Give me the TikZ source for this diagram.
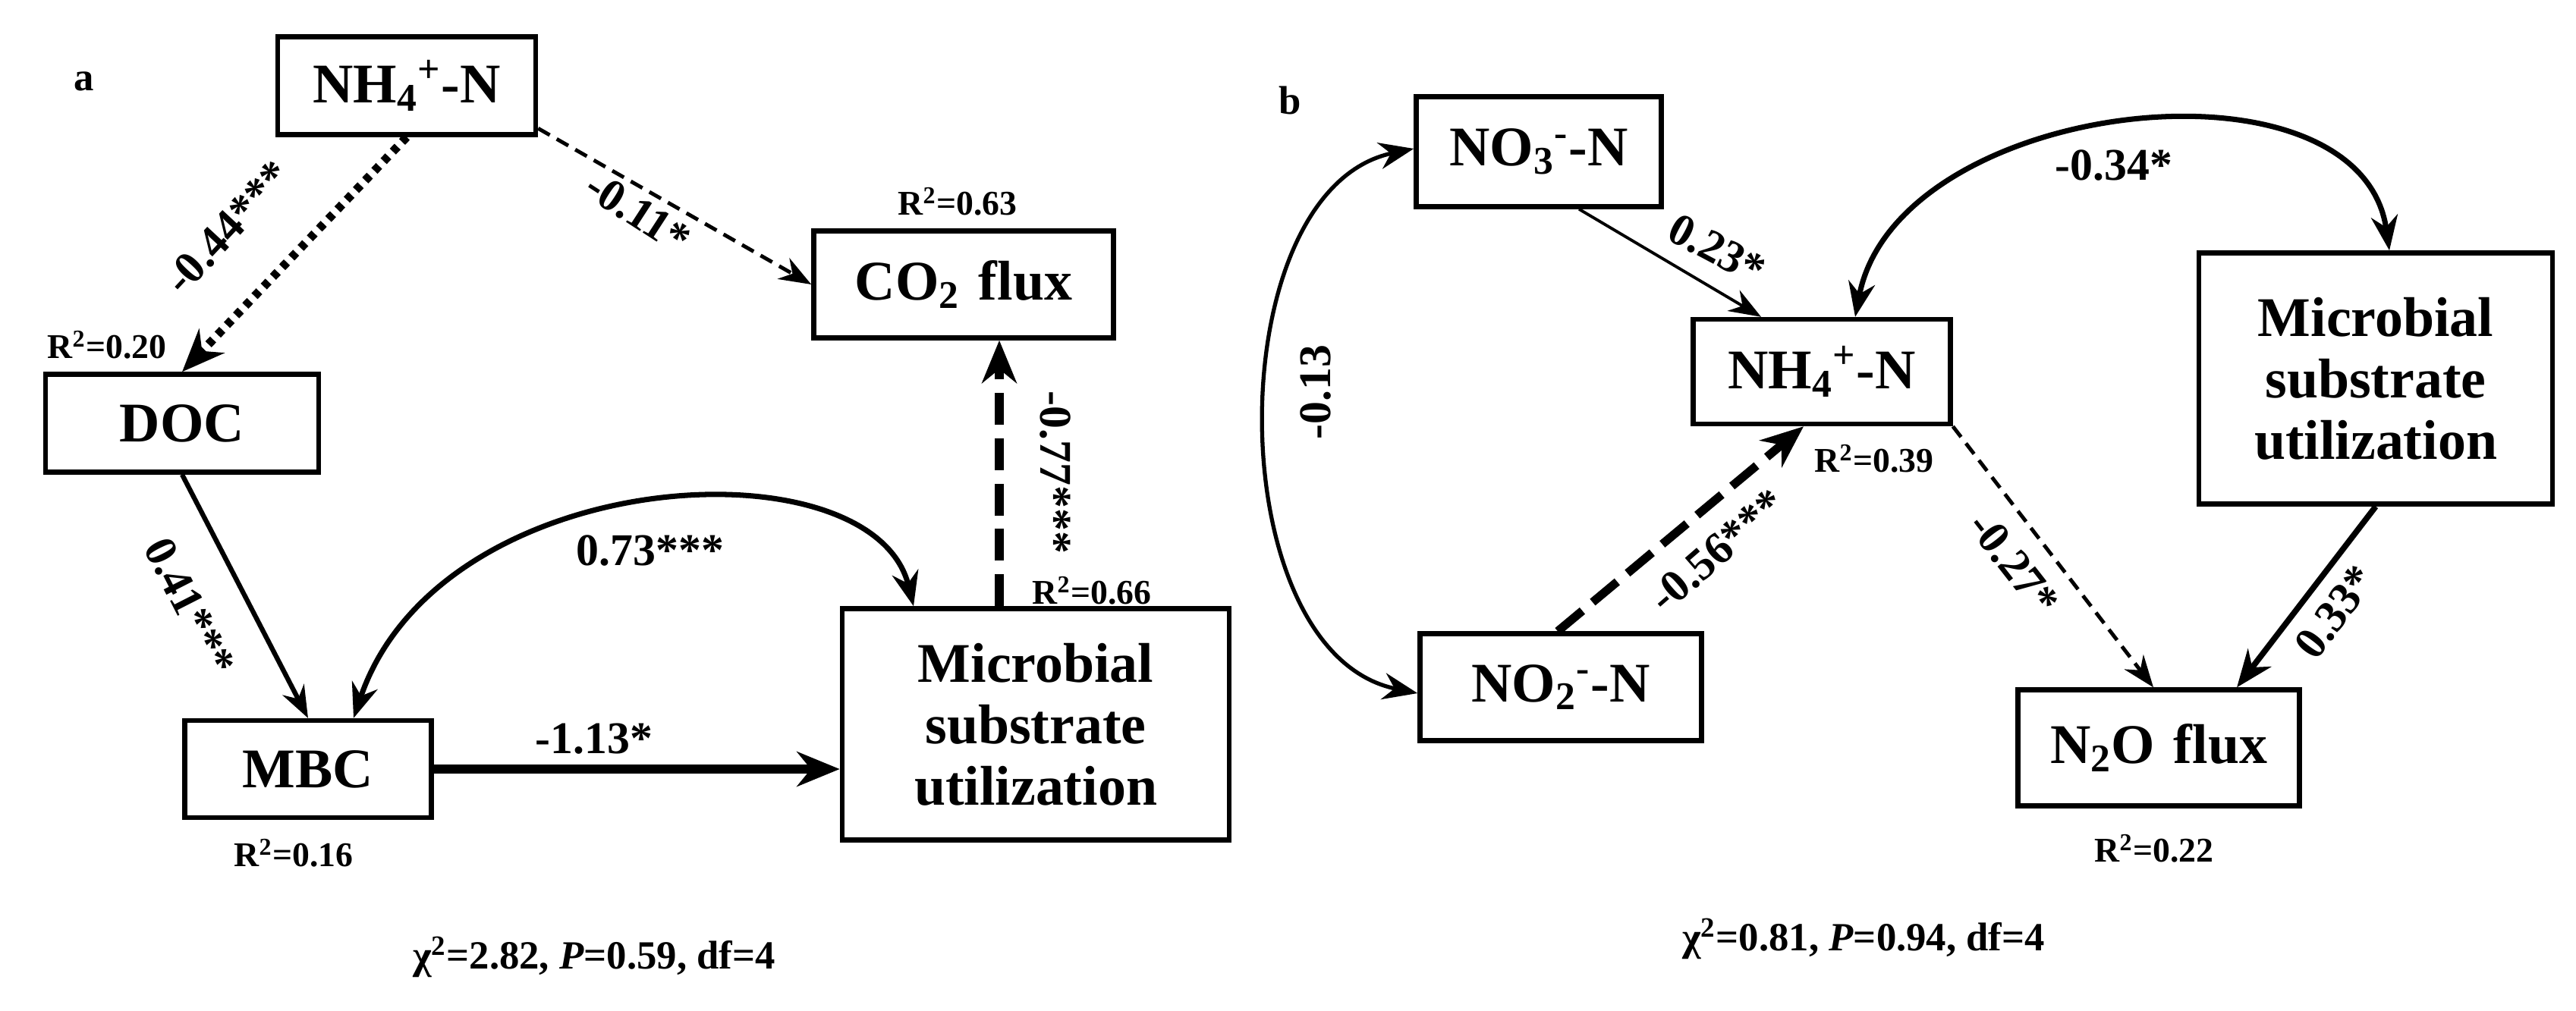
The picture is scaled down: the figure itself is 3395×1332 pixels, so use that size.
\documentclass[tikz,border=0pt]{standalone}
\usepackage{fontspec}
\setmainfont{Liberation Serif}
\usetikzlibrary{arrows.meta}
\begin{document}
\begin{tikzpicture}[x=0.01cm,y=-0.01cm,
 box/.style={draw,line width=1.8pt,font=\fontsize{21}{23}\selectfont\bfseries,align=center,inner sep=0pt},
 lab/.style={font=\fontsize{17}{19}\selectfont\bfseries},
 rr/.style={font=\fontsize{13}{15}\selectfont\bfseries},
 arr/.style={-{Stealth[length=12pt,width=9pt]},line width=1.4pt},
 darr/.style={{Stealth[length=13pt,width=10pt]}-{Stealth[length=13pt,width=10pt]},line width=2pt}]
\useasboundingbox (0,0) rectangle (3395,1332);
% panel a
\node[font=\fontsize{15}{17}\selectfont\bfseries] (pa) at (111,107) {a};
\node[box,text width=3.4cm,minimum height=1.29cm] (nh4a) at (536,113) {NH\textsubscript{4}\textsuperscript{+}-N};
\node[box,text width=3.95cm,minimum height=1.41cm] (co2) at (1270,375) {CO\textsubscript{2} flux};
\node[box,text width=3.6cm,minimum height=1.29cm] (doc) at (240,558) {DOC};
\node[box,text width=3.25cm,minimum height=1.28cm] (mbc) at (406,1014) {MBC};
\node[box,text width=5.1cm,minimum height=3.05cm] (mica) at (1365,955) {Microbial\\substrate\\utilization};
\node[rr] (r63) at (1262,266) {R\textsuperscript{2}=0.63};
\node[rr] (r20) at (141,455) {R\textsuperscript{2}=0.20};
\node[rr] (r16) at (387,1125) {R\textsuperscript{2}=0.16};
\node[rr] (r66) at (1439,779) {R\textsuperscript{2}=0.66};
\node[font=\fontsize{15}{17}\selectfont\bfseries] (chia) at (783,1262) {χ\textsuperscript{2}=2.82, \textit{P}=0.59, df=4};
\draw[arr,line width=3.2pt,dash pattern=on 2.5pt off 2.5pt,-{Stealth[length=16pt,width=13pt]}] (nh4a.south) -- (doc.north);
\draw[arr,dash pattern=on 5pt off 3pt] (nh4a.-18) -- (co2.west);
\draw[arr,line width=1.8pt] (doc.south) -- (mbc.north);
\draw[arr,line width=3.2pt,-{Stealth[length=16pt,width=13pt]}] (mbc.east) -- (mbc.east -| mica.west);
\draw[arr,line width=3.2pt,dash pattern=on 12pt off 5pt,-{Stealth[length=16pt,width=13pt]}] (mica.north -| 1317,0) -- (co2.south -| 1317,0);
\draw[darr] (mbc.north -| 466,0) .. controls (580,610) and (1150,580) .. (mica.north -| 1204,0);
\node[lab,rotate=47] (l1) at (300,300) {-0.44***};
\node[lab,rotate=-33] (l2) at (841,280) {-0.11*};
\node[lab,rotate=-63] (l3) at (250,800) {0.41***};
\node[lab] (l4) at (783,974) {-1.13*};
\node[lab,rotate=-90] (l5) at (1391,623) {-0.77***};
\node[lab] (l6) at (857,726) {0.73***};
% panel b
\node[font=\fontsize{15}{17}\selectfont\bfseries] (pb) at (1700,132) {b};
\node[box,text width=3.23cm,minimum height=1.45cm] (no3) at (2028,200) {NO\textsubscript{3}\textsuperscript{-}-N};
\node[box,text width=3.39cm,minimum height=1.38cm] (nh4b) at (2401,490) {NH\textsubscript{4}\textsuperscript{+}-N};
\node[box,text width=3.71cm,minimum height=1.41cm] (no2) at (2057,906) {NO\textsubscript{2}\textsuperscript{-}-N};
\node[box,text width=4.66cm,minimum height=3.31cm] (micb) at (3131,499) {Microbial\\substrate\\utilization};
\node[box,text width=3.71cm,minimum height=1.53cm] (n2o) at (2845,986) {N\textsubscript{2}O flux};
\node[rr] (r39) at (2470,605) {R\textsuperscript{2}=0.39};
\node[rr] (r22) at (2839,1119) {R\textsuperscript{2}=0.22};
\node[font=\fontsize{15}{17}\selectfont\bfseries] (chib) at (2456,1238) {χ\textsuperscript{2}=0.81, \textit{P}=0.94, df=4};
\draw[darr,line width=1.5pt] (no3.west |- 0,196) .. controls (1605,250) and (1605,860) .. (no2.west |- 0,914);
\draw[arr,line width=1.1pt] (no3.-55) -- (nh4b.north -| 2321,0);
\draw[arr,line width=3.2pt,dash pattern=on 12pt off 5pt,-{Stealth[length=16pt,width=13pt]}] (no2.north -| 2053,0) -- (nh4b.south -| 2377,0);
\draw[arr,dash pattern=on 5pt off 3pt] (nh4b.south east) -- (n2o.north -| 2838,0);
\draw[arr,line width=2.2pt,-{Stealth[length=14pt,width=11pt]}] (micb.south) -- (n2o.north -| 2948,0);
\draw[darr] (nh4b.north -| 2445,0) .. controls (2500,130) and (3110,60) .. (micb.north -| 3149,0);
\node[lab,rotate=90] (l7) at (1734,517) {-0.13};
\node[lab,rotate=-28] (l8) at (2263,329) {0.23*};
\node[lab,rotate=41] (l9) at (2263,726) {-0.56***};
\node[lab,rotate=-52] (l10) at (2654,743) {-0.27*};
\node[lab,rotate=53] (l11) at (3077,807) {0.33*};
\node[lab] (l12) at (2786,218) {-0.34*};
\end{tikzpicture}
\end{document}
